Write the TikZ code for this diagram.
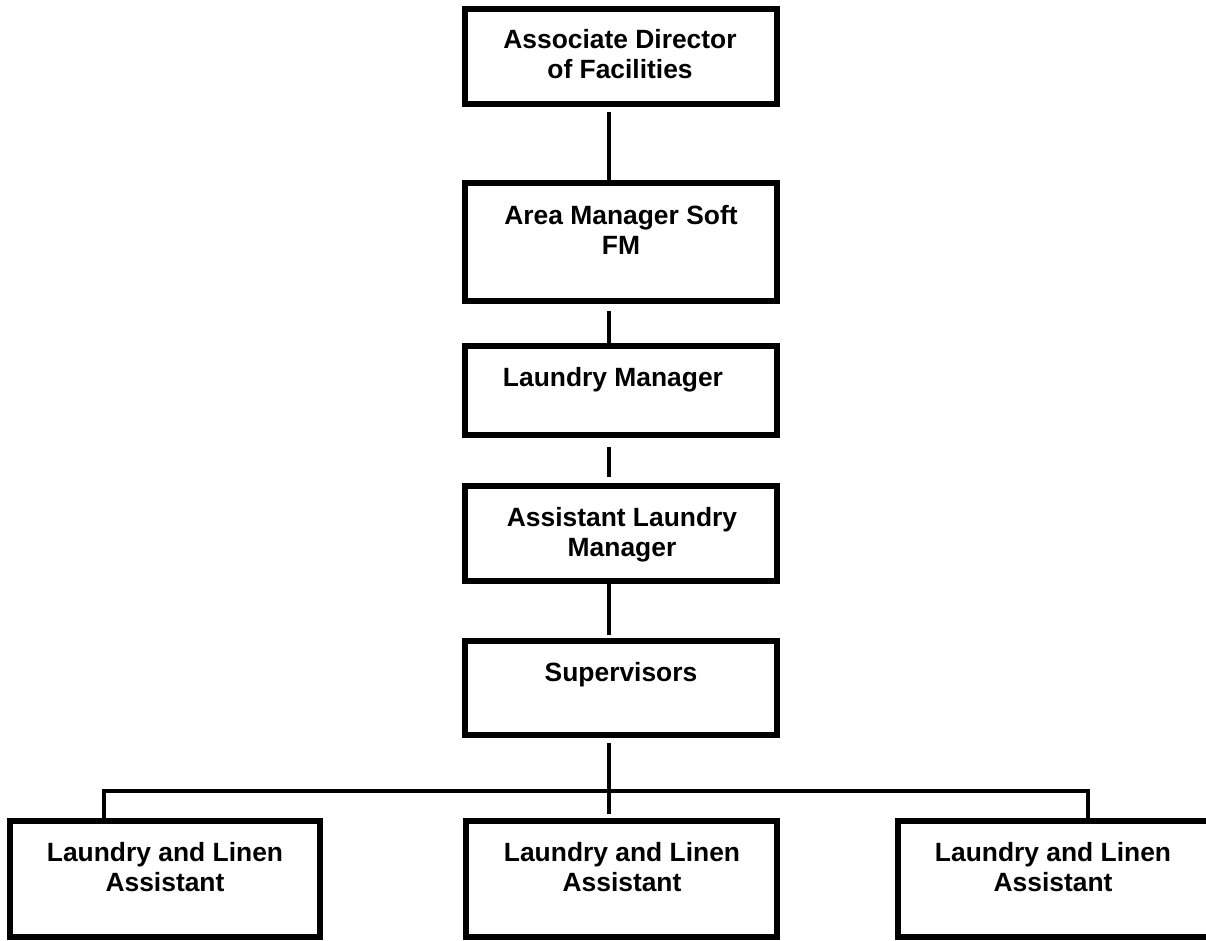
\documentclass[tikz,border=0pt]{standalone}
\usepackage{fontspec}
\setmainfont{Liberation Sans}
\begin{document}
\begin{tikzpicture}[x=1pt,y=-1pt,
  box/.style={draw=black, line width=5.5pt, minimum width=312pt, inner sep=0pt, outer sep=0pt, anchor=north west},
  lbl/.style={font=\fontsize{26.4}{30.5}\selectfont\bfseries, align=center, inner sep=0pt, anchor=north},
  conn/.style={draw=black, line width=4.8pt, line join=miter}]
\useasboundingbox (0,0) rectangle (1206,940);
\fill[white] (0,0) rectangle (1206,940);
\begin{scope}
\clip (0,0) rectangle (1206,940);
% boxes
\node[box, minimum height=95pt]  (b1) at (465,9)   {};
\node[box, minimum height=118pt] (b2) at (465,183) {};
\node[box, minimum height=89pt]  (b3) at (465,346) {};
\node[box, minimum height=95pt]  (b4) at (465,486) {};
\node[box, minimum height=94pt]  (b5) at (465,641) {};
\node[box, minimum width=310pt, minimum height=116pt] (c1) at (10,821)  {};
\node[box, minimum width=311pt, minimum height=116pt] (c2) at (466,821) {};
\node[box, minimum width=312pt, minimum height=116pt] (c3) at (898,821) {};
% labels
\node[lbl] (t1) at (620,29)  {Associate Director\\of Facilities};
\node[lbl] (t2) at (621,205) {Area Manager Soft\\FM};
\node[lbl] (t3) at (613,367) {Laundry Manager};
\node[lbl] (t4) at (622,507) {Assistant Laundry\\Manager};
\node[lbl] (t5) at (621,662) {Supervisors};
\node[lbl] (u1) at (165,842)  {Laundry and Linen\\Assistant};
\node[lbl] (u2) at (622,842)  {Laundry and Linen\\Assistant};
\node[lbl] (u3) at (1053,842) {Laundry and Linen\\Assistant};
% connectors
\coordinate (sp) at (609,0);
\coordinate (hl) at (104,791);
\coordinate (hr) at (1088,791);
\draw[conn, shorten <=7.5pt] (b1.south -| sp) -- (b2.north -| sp);
\draw[conn, shorten <=10pt] (b2.south -| sp) -- (b3.north -| sp);
\draw[conn, shorten <=12pt, shorten >=9pt] (b3.south -| sp) -- (b4.north -| sp);
\draw[conn, shorten <=2pt, shorten >=6pt] (b4.south -| sp) -- (b5.north -| sp);
\draw[conn, shorten <=8pt, shorten >=7pt] (b5.south -| sp) -- (c2.north -| sp);
\draw[conn] (c1.north -| hl) -- (hl) -- (hr) -- (c3.north -| hr);
\end{scope}
\end{tikzpicture}
\end{document}
